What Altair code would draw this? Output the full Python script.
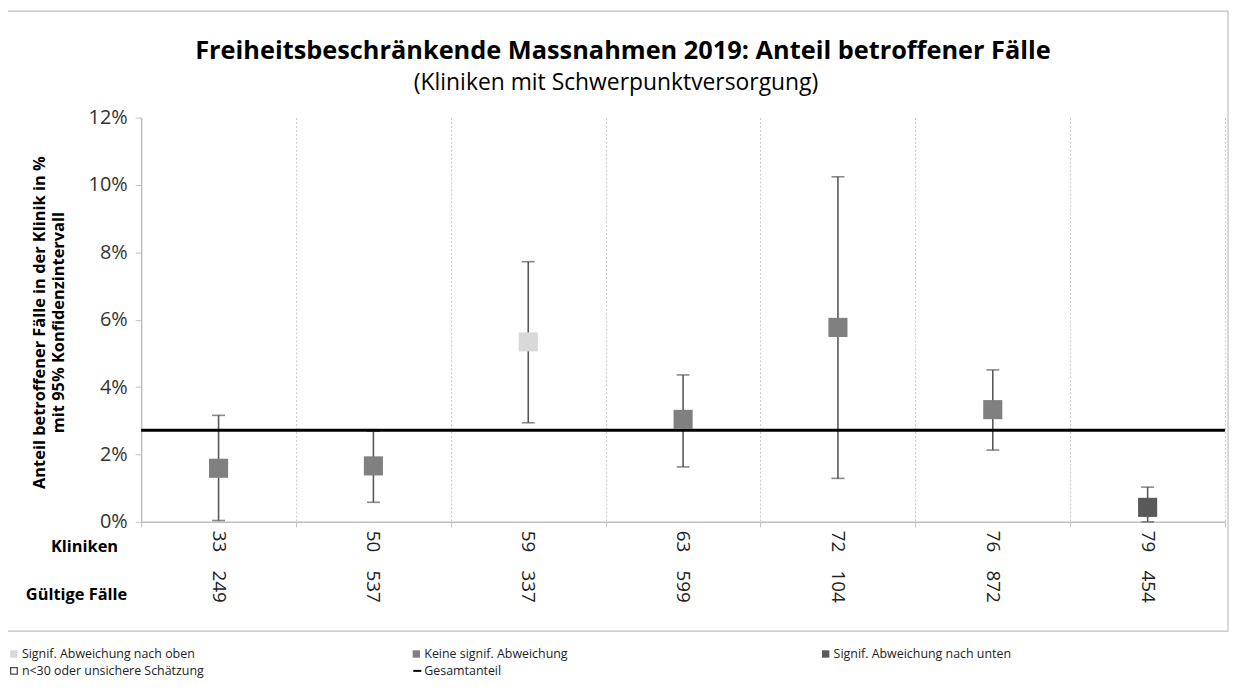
import altair as alt
import pandas as pd

# ---- data ----
kliniken = ["33", "50", "59", "63", "72", "76", "79"]
faelle = ["249", "537", "337", "599", "104", "872", "454"]
anteil = [1.59, 1.66, 5.34, 3.04, 5.77, 3.33, 0.43]
ki_unten = [0.04, 0.58, 2.94, 1.63, 1.29, 2.13, 0.0]
ki_oben = [3.16, 2.69, 7.72, 4.36, 10.24, 4.51, 1.03]
gruppe = ["keine", "keine", "oben", "keine", "keine", "keine", "unten"]
gesamtanteil = 2.72

gruppen = ["oben", "keine", "unten"]
farben = ["#d9d9d9", "#808080", "#595959"]

titel = "Freiheitsbeschränkende Massnahmen 2019: Anteil betroffener Fälle"
untertitel = "(Kliniken mit Schwerpunktversorgung)"
y_titel = ["Anteil betroffener Fälle in der Klinik in %", "mit 95% Konfidenzintervall"]
legende_texte = ["Signif. Abweichung nach oben", "Keine signif. Abweichung",
                 "Signif. Abweichung nach unten", "n<30 oder unsichere Schätzung",
                 "Gesamtanteil"]

FONT = "Open Sans"

df = pd.DataFrame({
    "klinik": kliniken, "faelle": faelle, "anteil": anteil,
    "unten": ki_unten, "oben": ki_oben, "gruppe": gruppe,
})

x = alt.X("klinik:N", sort=kliniken, title=None,
          scale=alt.Scale(paddingInner=0, paddingOuter=0),
          axis=alt.Axis(labels=False, bandPosition=1, grid=True, gridDash=[2, 2],
                        gridColor="#c8c8c8", gridWidth=1, ticks=True, tickSize=5,
                        tickColor="#bfbfbf", tickBand="extent",
                        domainColor="#bfbfbf", domainWidth=1.5))
y_scale = alt.Scale(domain=[0, 12], nice=False)

base = alt.Chart(df)

# outer frame
frame = alt.Chart(pd.DataFrame({"a": [0]})).mark_rect(
    fill=None, stroke="#bfbfbf", strokeWidth=1.2
).encode(x=alt.value(-136), x2=alt.value(1094), y=alt.value(-107), y2=alt.value(517))

errbars = base.mark_rule(color="#595959", strokeWidth=1.6).encode(
    x=x,
    y=alt.Y("unten:Q", scale=y_scale, title=y_titel,
            axis=alt.Axis(values=[0, 2, 4, 6, 8, 10, 12], labelExpr="datum.value + '%'",
                          grid=False, labelFontSize=20, labelColor="#333333",
                          labelFont=FONT, labelPadding=8, tickSize=6,
                          tickColor="#bfbfbf", domainColor="#bfbfbf", domainWidth=1.5,
                          titleFont=FONT, titleFontSize=16.5, titleFontWeight="bold",
                          titleColor="#000000", titleX=-94, titleY=206,
                          titleAlign="center", titleBaseline="bottom")),
    y2="oben:Q",
)
caps_hi = base.mark_tick(color="#595959", size=13, thickness=1.6).encode(
    x=x, y=alt.Y("oben:Q", scale=y_scale))
caps_lo = base.mark_tick(color="#595959", size=13, thickness=1.6).encode(
    x=x, y=alt.Y("unten:Q", scale=y_scale))

gesamt = alt.Chart(pd.DataFrame({"g": [gesamtanteil]})).mark_rule(
    color="#000000", strokeWidth=3).encode(y=alt.Y("g:Q", scale=y_scale))

points = base.mark_square(size=370, opacity=1).encode(
    x=x, y=alt.Y("anteil:Q", scale=y_scale),
    color=alt.Color("gruppe:N", scale=alt.Scale(domain=gruppen, range=farben), legend=None),
)

lab_k = base.mark_text(angle=90, align="left", baseline="middle", fontSize=19,
                       font=FONT, color="#222222").encode(
    x=x, y=alt.value(416), text="klinik:N")
lab_f = base.mark_text(angle=90, align="left", baseline="middle", fontSize=19,
                       font=FONT, color="#222222").encode(
    x=x, y=alt.value(456), text="faelle:N")

row_labels = alt.Chart(pd.DataFrame({
    "t": ["Kliniken", "Gültige Fälle"], "px": [-57, -65], "py": [432, 481]
})).mark_text(fontSize=16.5, fontWeight="bold", font=FONT, color="#000000",
              align="center", baseline="middle").encode(
    x=alt.X("px:Q", scale=None), y=alt.Y("py:Q", scale=None), text="t:N")

title1 = alt.Chart(pd.DataFrame({"t": [titel]})).mark_text(
    fontSize=25.5, fontWeight="bold", font=FONT, color="#000000", align="center",
    baseline="middle").encode(x=alt.value(485), y=alt.value(-67), text="t:N")
title2 = alt.Chart(pd.DataFrame({"t": [untertitel]})).mark_text(
    fontSize=23, font=FONT, color="#000000", align="center",
    baseline="middle").encode(x=alt.value(478), y=alt.value(-35), text="t:N")

# legend below the frame
leg_df = pd.DataFrame({
    "t": legende_texte,
    "px": [-120, 285, 697, -120, 285],
    "py": [540, 540, 540, 557, 557],
})
leg_text = alt.Chart(leg_df).mark_text(fontSize=12.5, font=FONT, color="#222222",
                                       align="left", baseline="middle").encode(
    x=alt.X("px:Q", scale=None), y=alt.Y("py:Q", scale=None), text="t:N")
leg_sq_df = pd.DataFrame({"g": gruppen, "px": [-128, 277, 689], "py": [540, 540, 540]})
leg_sq = alt.Chart(leg_sq_df).mark_square(size=55, opacity=1).encode(
    x=alt.X("px:Q", scale=None), y=alt.Y("py:Q", scale=None),
    color=alt.Color("g:N", scale=alt.Scale(domain=gruppen, range=farben), legend=None))
leg_hollow = alt.Chart(pd.DataFrame({"a": [0]})).mark_square(
    size=45, filled=False, stroke="#000000", strokeWidth=1.3).encode(
    x=alt.value(-128), y=alt.value(557))
leg_line = alt.Chart(pd.DataFrame({"a": [0]})).mark_rule(
    color="#000000", strokeWidth=2).encode(
    x=alt.value(274), x2=alt.value(282), y=alt.value(557))

chart = alt.layer(
    frame, errbars, caps_hi, caps_lo, gesamt, points, lab_k, lab_f,
    row_labels, title1, title2, leg_text, leg_sq, leg_hollow, leg_line
).resolve_scale(color="independent").properties(
    width=1091, height=407,
    autosize=alt.AutoSizeParams(type="none"),
    padding={"left": 134, "top": 108, "right": 9, "bottom": 160},
    background="#ffffff",
).configure_view(stroke=None)

chart.save("out.html", embed_options={"renderer": "svg", "actions": False})
